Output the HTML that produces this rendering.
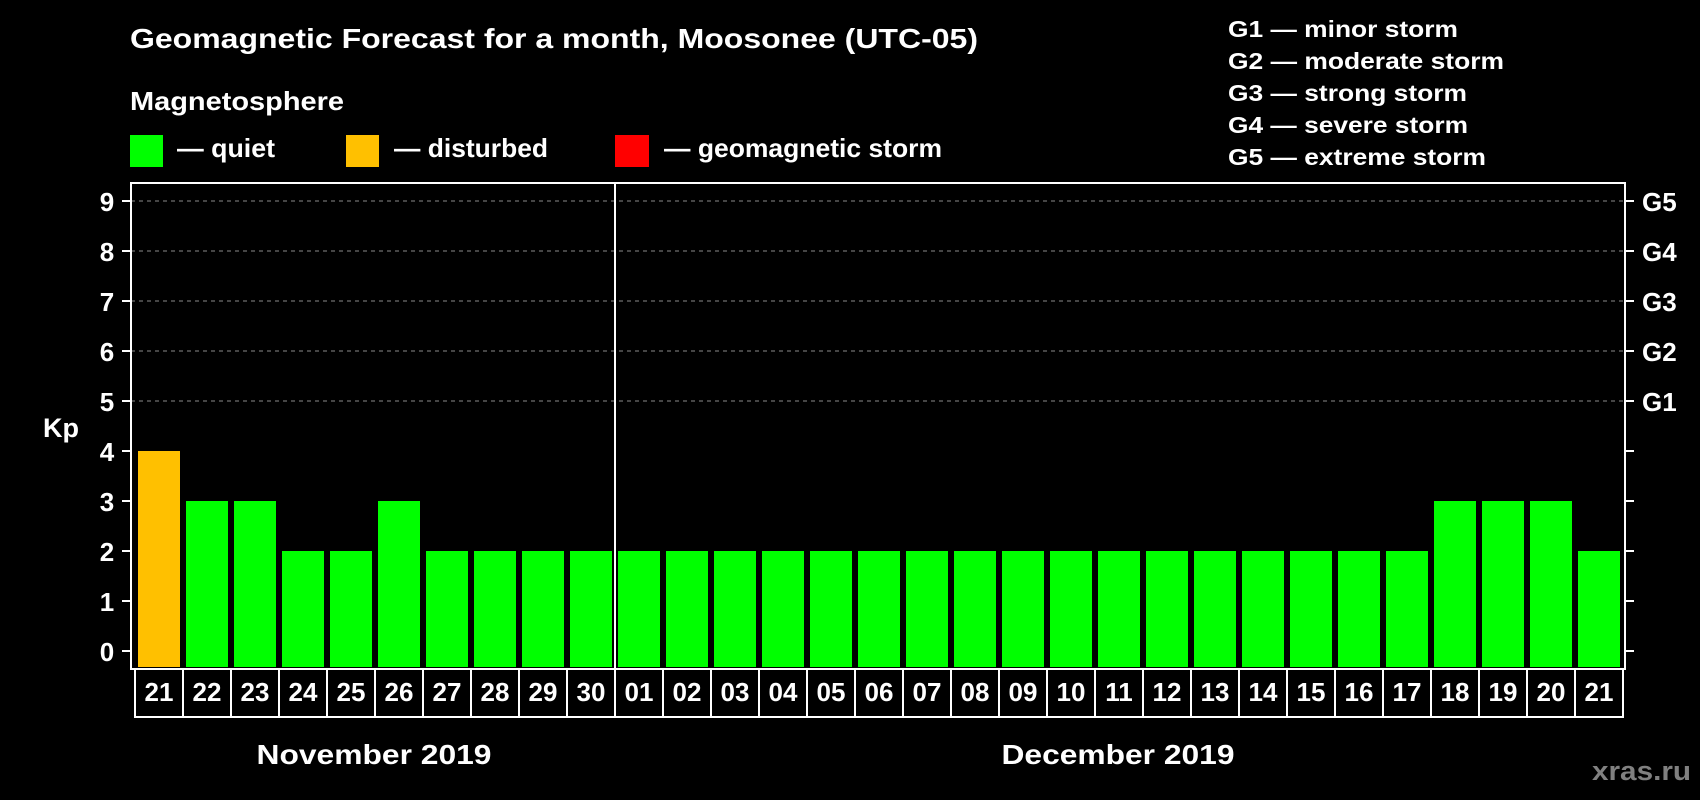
<!DOCTYPE html>
<html><head><meta charset="utf-8"><style>
html,body{margin:0;padding:0;background:#000;}
svg{display:block;}
text{font-family:"Liberation Sans",Arial,sans-serif;font-weight:bold;fill:#fff;}
</style></head><body>
<svg id="chart" width="1700" height="800" viewBox="0 0 1700 800">
<rect x="0" y="0" width="1700" height="800" fill="#000"/>
<text x="130" y="48" font-size="28" textLength="848" lengthAdjust="spacingAndGlyphs">Geomagnetic Forecast for a month, Moosonee (UTC-05)</text>
<text x="130" y="110" font-size="26" textLength="214" lengthAdjust="spacingAndGlyphs">Magnetosphere</text>
<g>
<rect x="130" y="135" width="33" height="32" fill="#00ff00"/>
<text x="177" y="157" font-size="26" textLength="98" lengthAdjust="spacingAndGlyphs">— quiet</text>
</g>
<g>
<rect x="346" y="135" width="33" height="32" fill="#ffc000"/>
<text x="394" y="157" font-size="26" textLength="154" lengthAdjust="spacingAndGlyphs">— disturbed</text>
</g>
<g>
<rect x="615" y="135" width="34" height="32" fill="#ff0000"/>
<text x="664" y="157" font-size="26" textLength="278" lengthAdjust="spacingAndGlyphs">— geomagnetic storm</text>
</g>
<g>
<text x="1228" y="37" font-size="23" textLength="230" lengthAdjust="spacingAndGlyphs">G1 — minor storm</text>
<text x="1228" y="69" font-size="23" textLength="276" lengthAdjust="spacingAndGlyphs">G2 — moderate storm</text>
<text x="1228" y="101" font-size="23" textLength="239" lengthAdjust="spacingAndGlyphs">G3 — strong storm</text>
<text x="1228" y="133" font-size="23" textLength="240" lengthAdjust="spacingAndGlyphs">G4 — severe storm</text>
<text x="1228" y="165" font-size="23" textLength="258" lengthAdjust="spacingAndGlyphs">G5 — extreme storm</text>
</g>
<text x="43" y="437" font-size="27">Kp</text>
<g id="grid"></g>
<g id="bars"></g>
<g id="axes"></g>
<text x="374" y="764" font-size="28" text-anchor="middle" textLength="235" lengthAdjust="spacingAndGlyphs">November 2019</text>
<text x="1118" y="764" font-size="28" text-anchor="middle" textLength="233" lengthAdjust="spacingAndGlyphs">December 2019</text>
<text x="1691" y="780" font-size="27" text-anchor="end" style="fill:#808080" textLength="99" lengthAdjust="spacingAndGlyphs">xras.ru</text>
</svg>
<script>
const days = ["21","22","23","24","25","26","27","28","29","30","01","02","03","04","05","06","07","08","09","10","11","12","13","14","15","16","17","18","19","20","21"];
const kpValues = [4,3,3,2,2,3,2,2,2,2,2,2,2,2,2,2,2,2,2,2,2,2,2,2,2,2,2,3,3,3,2];
const yTicks = [0,1,2,3,4,5,6,7,8,9];
const gLabels = ["G1","G2","G3","G4","G5"];
const monthBreakIndex = 10;

const NS = "http://www.w3.org/2000/svg";
const L = 131, R = 1625, T = 183, B = 669, x0 = 135, pitch = 48;
function y(v){ return 651 - 50*v; }
function xCell(i){ return x0 + pitch*i; }
function mk(tag, attrs, parent){ const e = document.createElementNS(NS, tag); for (const k in attrs) e.setAttribute(k, attrs[k]); parent.appendChild(e); return e; }
function color(v){ return v >= 5 ? "#ff0000" : (v >= 4 ? "#ffc000" : "#00ff00"); }

const grid = document.getElementById("grid");
const bars = document.getElementById("bars");
const axes = document.getElementById("axes");

yTicks.forEach(function(v){
  if (v >= 5) {
    const g = mk("line", {x1:L, x2:R, y1:y(v), y2:y(v), stroke:"#8a8a8a", "stroke-width":1, "stroke-dasharray":"4 4"}, grid);
    
    
  }
  const t = mk("line", {x1:122, x2:L, y1:y(v), y2:y(v), stroke:"#fff", "stroke-width":2}, axes);
  
  
  const tr = mk("line", {x1:R, x2:1634, y1:y(v), y2:y(v), stroke:"#fff", "stroke-width":2}, axes);
  
  
  const lb = mk("text", {x:107, y:y(v)+10, "font-size":26, "text-anchor":"middle"}, axes);
  lb.textContent = String(v);
  
  
});
gLabels.forEach(function(g, i){
  const lb = mk("text", {x:1642, y:y(5+i)+10, "font-size":26}, axes);
  lb.textContent = g;
  
  
});

kpValues.forEach(function(v, i){
  const b = mk("rect", {x:xCell(i)+3, y:y(v), width:42, height:667 - y(v), fill:color(v)}, bars);
  
  
});

const frame = mk("rect", {x:L, y:T, width:R-L, height:B-T, fill:"none", stroke:"#fff", "stroke-width":2}, axes);


const sep = mk("line", {x1:xCell(monthBreakIndex), x2:xCell(monthBreakIndex), y1:T, y2:B, stroke:"#fff", "stroke-width":2}, axes);



const dateBox = mk("rect", {x:x0, y:B, width:pitch*days.length, height:48, fill:"none", stroke:"#fff", "stroke-width":2}, axes);


days.forEach(function(d, i){
  if (i > 0) {
    const dv = mk("line", {x1:xCell(i), x2:xCell(i), y1:B, y2:B+48, stroke:"#fff", "stroke-width":2}, axes);
    
    
  }
  const t = mk("text", {x:xCell(i)+24, y:701, "font-size":26, "text-anchor":"middle"}, axes);
  t.textContent = d;
  
  
});
</script>
</body></html>
